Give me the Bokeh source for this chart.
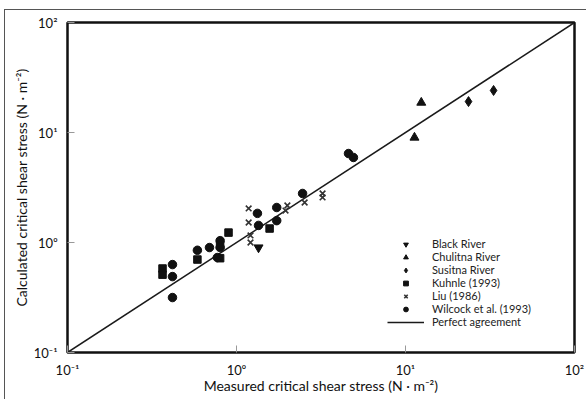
from bokeh.plotting import figure
from bokeh.models import Range1d, FixedTicker, Legend, LegendItem
from bokeh.embed import file_html
from bokeh.resources import INLINE

# ---- data ----
black_x = [1.35]
black_y = [0.90]

chulitna_x = [12.4, 11.3]
chulitna_y = [18.7, 9.0]

susitna_x = [23.6, 33.2]
susitna_y = [19.1, 24.1]

kuhnle_x = [0.365, 0.365, 0.587, 0.80, 0.80, 0.897, 1.57]
kuhnle_y = [0.58, 0.51, 0.70, 0.72, 0.95, 1.23, 1.34]

liu_x = [1.18, 1.18, 1.21, 1.21, 2.0, 1.95, 2.53, 3.23, 3.23]
liu_y = [2.04, 1.52, 1.16, 1.00, 2.17, 1.95, 2.31, 2.79, 2.57]

wilcock_x = [0.418, 0.418, 0.418, 0.587, 0.692, 0.77, 0.80, 0.80,
             1.33, 1.35, 1.73, 1.73, 2.46, 4.6, 4.92]
wilcock_y = [0.63, 0.49, 0.316, 0.85, 0.90, 0.73, 1.04, 0.90,
             1.84, 1.43, 2.08, 1.58, 2.79, 6.44, 5.93]

perfect_x = [0.1, 100]
perfect_y = [0.1, 100]

tick_values = [0.1, 1, 10, 100]
tick_labels = ["10\u207b\u00b9", "10\u2070", "10\u00b9", "10\u00b2"]

FONT = "Lato"

p = figure(width=582, height=390, x_axis_type="log", y_axis_type="log",
           x_range=Range1d(0.1, 100), y_range=Range1d(0.1, 100),
           output_backend="svg", toolbar_location=None,
           min_border_left=62, min_border_right=13,
           min_border_top=12, min_border_bottom=48)

p.styles = {"margin-top": "9px", "margin-left": "4px",
            "border-top": "1px solid #555", "border-left": "1px solid #555"}

p.xgrid.visible = False
p.ygrid.visible = False
p.outline_line_color = "#111111"
p.outline_line_width = 2.5

for ax in (p.xaxis[0], p.yaxis[0]):
    ax.ticker = FixedTicker(ticks=tick_values)
    ax.major_label_overrides = {v: t for v, t in zip(tick_values, tick_labels)}
    ax.axis_line_color = None
    ax.major_tick_in = 7
    ax.major_tick_out = 0
    ax.major_tick_line_color = "#999999"
    ax.minor_tick_line_color = None
    ax.major_label_text_font = FONT
    ax.major_label_text_font_size = "13px"
    ax.major_label_text_color = "#111111"
    ax.axis_label_text_font = FONT
    ax.axis_label_text_font_size = "14px"
    ax.axis_label_text_font_style = "normal"
    ax.axis_label_text_color = "#111111"

p.xaxis.axis_label = "Measured critical shear stress (N \u00b7 m\u207b\u00b2)"
p.yaxis.axis_label = "Calculated critical shear stress (N \u00b7 m\u207b\u00b2)"
p.xaxis.major_label_standoff = 9
p.xaxis.axis_label_standoff = -4
p.yaxis.major_label_standoff = 10
p.yaxis.axis_label_standoff = 1

line = p.line(perfect_x, perfect_y, line_color="#1a1a1a", line_width=1.5)

r_black = p.scatter(black_x, black_y, marker="inverted_triangle", size=9,
                    fill_color="#111111", line_color="#111111")
r_chul = p.scatter(chulitna_x, chulitna_y, marker="triangle", size=9,
                   fill_color="#111111", line_color="#111111")
r_sus = p.scatter(susitna_x, susitna_y, marker="diamond", size=10,
                  fill_color="#111111", line_color="#111111")
r_kuh = p.scatter(kuhnle_x, kuhnle_y, marker="square", size=7.5,
                  fill_color="#111111", line_color="#111111")
r_liu = p.scatter(liu_x, liu_y, marker="x", size=8, line_width=1.6,
                  line_color="#333333")
r_wil = p.scatter(wilcock_x, wilcock_y, marker="circle", size=8.5,
                  fill_color="#111111", line_color="#111111")

legend = Legend(items=[
    LegendItem(label="Black River", renderers=[r_black]),
    LegendItem(label="Chulitna River", renderers=[r_chul]),
    LegendItem(label="Susitna River", renderers=[r_sus]),
    LegendItem(label="Kuhnle (1993)", renderers=[r_kuh]),
    LegendItem(label="Liu (1986)", renderers=[r_liu]),
    LegendItem(label="Wilcock et al. (1993)", renderers=[r_wil]),
    LegendItem(label="Perfect agreement", renderers=[line]),
], location=(320, 24))
legend.margin = 0
legend.padding = 0
legend.spacing = -2
legend.glyph_width = 37
legend.glyph_height = 12
legend.label_height = 12
legend.label_standoff = 8
legend.label_text_font = FONT
legend.label_text_font_size = "11px"
legend.label_text_color = "#222222"
legend.border_line_color = None
legend.background_fill_alpha = 0
p.add_layout(legend, "center")

open("out.html", "w").write(file_html(p, INLINE))
